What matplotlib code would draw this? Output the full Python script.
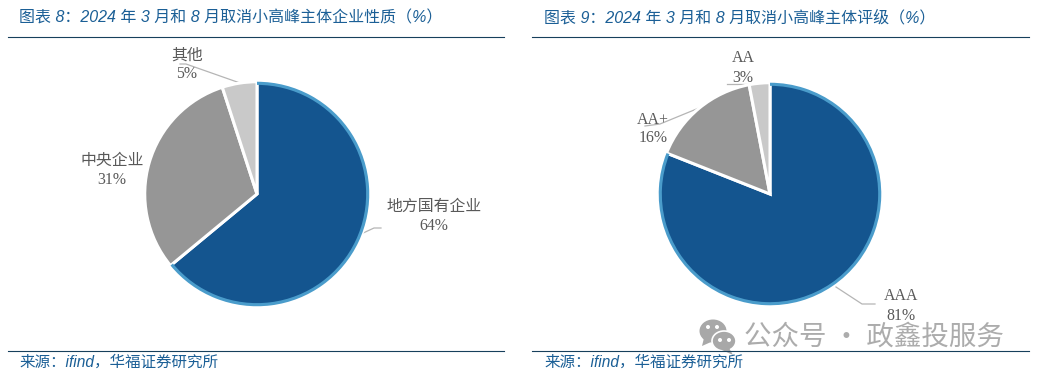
import matplotlib
matplotlib.use("Agg")
import matplotlib.pyplot as plt
from matplotlib.patches import Ellipse, Polygon

W, H = 1038, 379
BLUE = "#14558f"
GREY = "#969696"
LIGHT = "#c9c9c9"
EDGE = "#4a9ccb"
TXT = "#595959"
HEAD = "#1b5f96"
RULE = "#17405c"

left_names = ["地方国有企业", "中央企业", "其他"]
left_values = [64, 31, 5]
right_names = ["AAA", "AA+", "AA"]
right_values = [81, 16, 3]

left_title = "图表 8：2024 年 3 月和 8 月取消小高峰主体企业性质（%）"
right_title = "图表 9：2024 年 3 月和 8 月取消小高峰主体评级（%）"
source = "来源：ifind，华福证券研究所"
watermark = "公众号 · 政鑫投服务"

HEAD_FONT = ["Liberation Sans", "Noto Sans CJK SC"]
LABEL_FONT = ["Liberation Serif", "Noto Sans CJK SC"]

fig = plt.figure(figsize=(W / 100, H / 100), dpi=100)
bg = fig.add_axes([0, 0, 1, 1])
bg.set_xlim(0, W)
bg.set_ylim(H, 0)
bg.axis("off")


def draw_pie(cx, cy, r, values):
    ax = fig.add_axes([(cx - r) / W, 1 - (cy + r) / H, 2 * r / W, 2 * r / H])
    ax.pie(values, colors=[BLUE, GREY, LIGHT], startangle=90, counterclock=False,
           radius=1, wedgeprops={"edgecolor": "white", "linewidth": 2.2})
    # lighter rim on the big slice only
    ax.pie(values, colors=[EDGE, "none", "none"], startangle=90, counterclock=False,
           radius=1, wedgeprops={"width": 0.028, "linewidth": 0})
    ax.set_xlim(-1.02, 1.02)
    ax.set_ylim(-1.02, 1.02)
    ax.patch.set_alpha(0)


def panel(x0, x1, title, tx):
    bg.plot([x0, x1], [36.5, 36.5], color=RULE, lw=0.8)
    bg.plot([x0, x1], [350.5, 350.5], color=RULE, lw=0.8)
    bg.text(tx, 18, title, family=HEAD_FONT, style="italic", fontsize=11.5, color=HEAD, va="center")
    bg.text(tx, 362, source, family=HEAD_FONT, style="italic", fontsize=11.2, color=HEAD, va="center")


def label(x, y, name, value):
    bg.text(x, y, f"{name}\n{value}%", family=LABEL_FONT, fontsize=11.4, color=TXT,
            ha="center", va="center", linespacing=1.25)


panel(8, 504, left_title, 19)
panel(532, 1029, right_title, 544)

draw_pie(257, 194, 114.5, left_values)
draw_pie(770, 194, 113.5, right_values)

label(434, 216, left_names[0], left_values[0])
label(112, 170, left_names[1], left_values[1])
label(187, 65, left_names[2], left_values[2])
label(901, 306, right_names[0], right_values[0])
label(653, 129, right_names[1], right_values[1])
label(743, 68, right_names[2], right_values[2])

# leader lines
for xs, ys in [([361, 374, 381], [234, 228, 228]),
               ([180, 186, 240], [64, 64, 83]),
               ([836, 862, 875], [287, 304, 304]),
               ([699, 660, 645], [108, 124, 126]),
               ([727, 758], [84, 84])]:
    bg.plot(xs, ys, color="#b5b5b5", lw=0.9)

# watermark: wechat bubbles + account name
wm = "#a8a8a8"
bg.add_patch(Ellipse((713, 331), 27, 23, color=wm, lw=0))
bg.add_patch(Polygon([[704, 338], [702, 346], [711, 342]], color=wm, lw=0))
bg.add_patch(Ellipse((724, 341), 24, 20, color=wm, ec="white", lw=1.2))
bg.add_patch(Polygon([[729, 348], [733, 355], [722, 350]], color=wm, lw=0))
for ex, ey, col in [(708, 327, "white"), (717, 327, "white"), (720, 340, "white"), (729, 340, "white")]:
    bg.add_patch(Ellipse((ex, ey), 4, 4, color=col, lw=0))
bg.text(744, 337, watermark, family=["Noto Sans CJK SC", "DejaVu Sans"], fontsize=19.8, color=wm,
        va="center", alpha=0.95)

fig.savefig("out.png", dpi=100)
